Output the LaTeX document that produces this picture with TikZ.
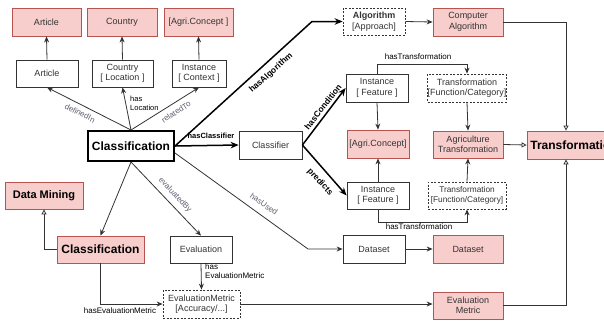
\documentclass[tikz,border=0pt]{standalone}
\usepackage{fontspec}
\setmainfont{Liberation Sans}
\usetikzlibrary{arrows.meta}
\definecolor{pinkf}{HTML}{F8CECC}
\definecolor{pinkd}{HTML}{B85450}
\definecolor{txt}{HTML}{333333}
\definecolor{labc}{HTML}{5F5F70}
\definecolor{lnc}{HTML}{333333}
\begin{document}
\begin{tikzpicture}[x=1pt,y=-1pt,
 box/.style={rectangle, draw=lnc, line width=0.8pt, fill=white, text=txt, align=center, inner sep=0.5pt, font=\fontsize{9}{10.5}\selectfont},
 pbox/.style={box, draw=pinkd, fill=pinkf},
 dbox/.style={box, dash pattern=on 2pt off 1.5pt},
 sz/.style 2 args={minimum width=#1, minimum height=#2},
 bigtxt/.style={font=\bfseries\fontsize{12}{14}\selectfont, text=black},
 conn/.style={draw=lnc, line width=0.8pt, -{Stealth[length=6pt,width=5pt]}},
 thk/.style={draw=black, line width=1.5pt, -{Stealth[length=8pt,width=6.5pt]}},
 inh/.style={draw=lnc, line width=0.8pt, -{Triangle[open,length=5pt,width=5pt]}},
 lbl/.style={font=\fontsize{8}{9}\selectfont, text=black, inner sep=0pt},
 glbl/.style={lbl, text=labc},
 blbl/.style={font=\bfseries\fontsize{8.5}{10}\selectfont, text=black, inner sep=0pt},
]
\useasboundingbox (0,0) rectangle (604,325);
% top row
\node[pbox, sz={69}{28}] (artp) at (46.5,22) {Article};
\node[pbox, sz={70}{28}] (coup) at (122,22) {Country};
\node[pbox, sz={69}{28}] (agp) at (198.5,22) {{[}Agri.Concept ]};
\node[box, sz={62}{27}] (artw) at (47,73.5) {Article};
\node[box, sz={61}{27}] (couw) at (122.5,73.5) {Country\\{[} Location ]};
\node[box, sz={54}{27}] (insc) at (199,73.5) {Instance\\{[} Context ]};
\node[box, draw=black, line width=2pt, sz={86}{30}, bigtxt] (cls) at (131,146) {Classification};
\node[dbox, sz={62}{27}] (alg) at (374,21.5) {\textbf{Algorithm}\\{[}Approach]};
\node[pbox, sz={70}{28}] (calg) at (468,22) {Computer\\Algorithm};
\node[box, sz={63}{28}] (clf) at (270.5,145) {Classifier};
\node[box, sz={62}{28}] (if1) at (377,88) {Instance\\{[} Feature ]};
\node[pbox, sz={62}{28}] (agc) at (378,144) {{[}Agri.Concept]};
\node[dbox, sz={78}{28}, inner sep=0pt] (tr1) at (467,88) {Transformation\\{[}Function/Category]};
\node[pbox, sz={70}{27}] (agt) at (468,144.5) {Agriculture\\Transformation};
\node[pbox, sz={94}{28}, bigtxt] (trb) at (574,145) {Transformation};
\node[box, sz={62}{27}] (if2) at (378,195.5) {Instance\\{[} Feature ]};
\node[dbox, sz={78}{27}, inner sep=0pt, font=\fontsize{8.3}{9.5}\selectfont] (tr2) at (467,195.5) {Transformation\\{[}Function/Category]};
\node[pbox, sz={78}{27}, font=\bfseries\fontsize{11}{13}\selectfont, text=black] (dm) at (44,195.5) {Data Mining};
\node[pbox, sz={87}{27}, bigtxt] (clp) at (100.5,249.5) {Classification};
\node[box, sz={62}{27}] (ev) at (201,249.5) {Evaluation};
\node[box, sz={62}{28}] (dsw) at (374,249) {Dataset};
\node[pbox, sz={70}{28}] (dsp) at (468,249) {Dataset};
\node[dbox, sz={77}{28}] (evm) at (201.5,304) {EvaluationMetric\\{[}Accuracy/...]};
\node[pbox, sz={70}{27}] (evmp) at (468,305.5) {Evaluation\\Metric};
% connectors
\draw[conn] (artw.north) -- (artp.south);
\draw[conn] (couw.north) -- (coup.south);
\draw[conn] (insc.north) -- (agp.south);
\draw[conn] (cls.north) -- (artw.south);
\draw[conn] (cls.north) -- (couw.south);
\draw[conn] (cls.north) -- (insc.south);
\draw[thk] (cls.east) -- (312,21.5) -- (alg.west);
\draw[thk] (cls.east) -- (clf.west);
\draw[thk] (clf.east) -- (if1.west);
\draw[thk] (clf.east) -- (if2.west);
\draw[conn] ([yshift=-7pt]cls.east) -- (308,249) -- (dsw.west);
\draw[conn] (cls.south) -- (clp.north);
\draw[conn] (cls.south) -- (ev.north);
\draw[conn] (ev.south) -- (evm.north);
\draw[conn] (clp.south) |- (evm.west);
\draw[inh] (clp.west) -| (dm.south);
\draw[conn] (evm.east) -- (evmp.west |- evm.east);
\draw[inh] (evmp.east) -| ([xshift=-8pt]trb.south);
\draw[inh] (calg.east) -| ([xshift=-8pt]trb.north);
\draw[inh] (agt.east) -- (trb.west);
\draw[conn] (alg.east) -- (calg.west);
\draw[conn] (if1.south) -- (agc.north);
\draw[conn] (if2.north) -- (agc.south);
\draw[conn] (tr1.south) -- (agt.north);
\draw[conn] (tr2.north) -- (agt.south);
\draw[conn] (if1.north) -- ++(0,-9) -| (tr1.north);
\draw[conn] (if2.south) -- ++(0,12.5) -| (tr2.south);
\draw[conn] (dsw.east) -- (dsp.west);
% labels
\node[glbl, rotate=-27] at (80,113) {definedIn};
\node[lbl, align=left, anchor=north west, font=\fontsize{7.5}{9}\selectfont] at (130,96) {has\\Location};
\node[glbl, rotate=33] at (176,112) {relatedTo};
\node[blbl, rotate=41.7] at (271,73) {hasAlgorithm};
\node[blbl, font=\bfseries\fontsize{7.5}{9}\selectfont] at (211,136) {hasClassifier};
\node[blbl, rotate=52] at (323,107) {hasCondition};
\node[blbl, rotate=-47.5] at (320,182) {predicts};
\node[glbl, rotate=-47] at (175,195) {evaluatedBy};
\node[glbl, rotate=-35.4] at (264,204) {hasUsed};
\node[lbl, align=left, anchor=north west] at (205,263) {has\\EvaluationMetric};
\node[lbl] at (120,311) {hasEvaluationMetric};
\node[lbl] at (418,57) {hasTransformation};
\node[lbl] at (419,227) {hasTransformation};
\end{tikzpicture}
\end{document}
